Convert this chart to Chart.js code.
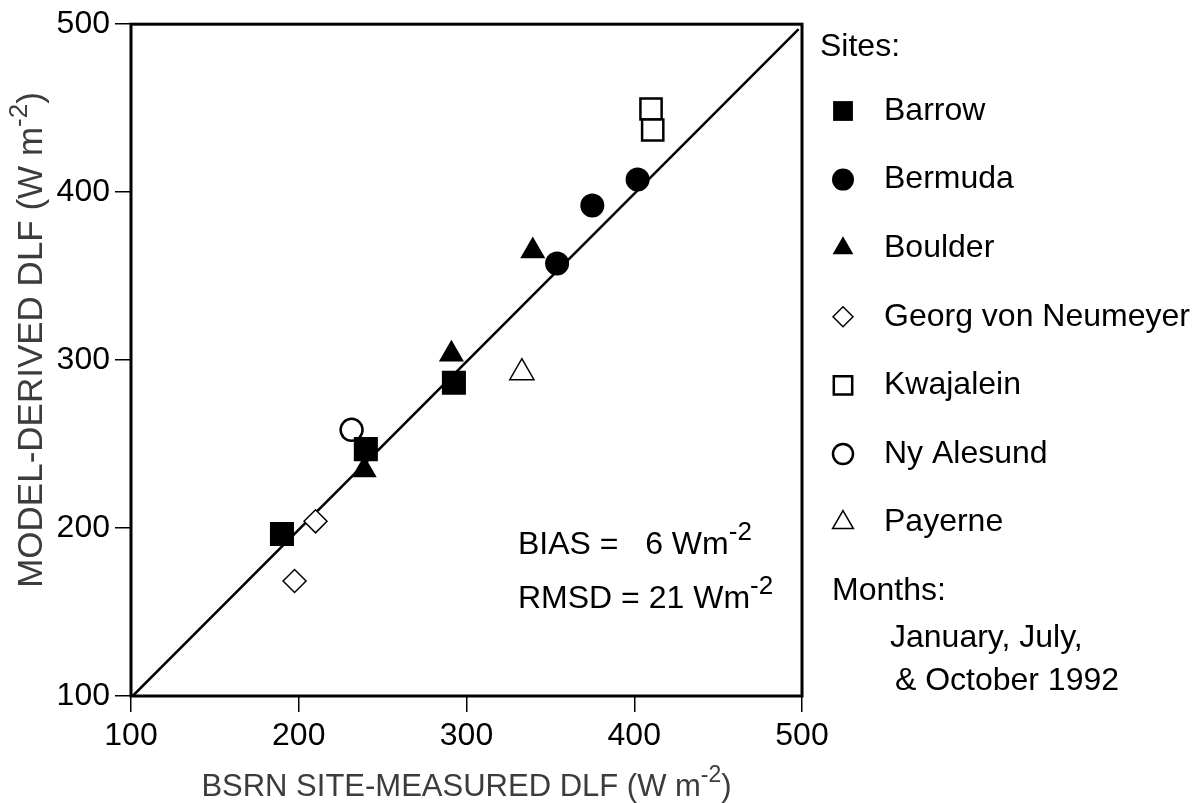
<!DOCTYPE html>
<html>
<head>
<meta charset="utf-8">
<title>Model-derived vs BSRN site-measured DLF</title>
<script src="https://cdn.jsdelivr.net/npm/chart.js@4"></script>
<style>
  html, body { margin: 0; padding: 0; background: #fff; }
  #wrap { width: 1196px; height: 803px; }
</style>
</head>
<body>
<div id="wrap"><canvas id="dlfChart" width="1196" height="803"></canvas></div>
<script>
// --- data (W m-2) ---
const siteNames = ['Barrow', 'Bermuda', 'Boulder', 'Georg von Neumeyer', 'Kwajalein', 'Ny Alesund', 'Payerne'];

const barrowX = [190, 240, 292.5];
const barrowY = [196.5, 247, 286.5];
const bermudaX = [354, 375, 402];
const bermudaY = [357.5, 392, 407.5];
const boulderX = [239, 291, 339.5];
const boulderY = [234.5, 303.5, 365];
const georgX = [197.5, 210];
const georgY = [168.5, 204];
const kwajaleinX = [410, 411];
const kwajaleinY = [449.5, 437];
const nyAlesundX = [231.5];
const nyAlesundY = [258.5];
const payerneX = [333];
const payerneY = [292.5];

// 1:1 line
const oneToOneX = [101, 498];
const oneToOneY = [100, 497];

const tickValues = [100, 200, 300, 400, 500];

const xTitle = [{ t: 'BSRN SITE-MEASURED DLF (W m' }, { t: '-2', sup: true }, { t: ')' }];
const yTitle = [{ t: 'MODEL-DERIVED DLF (W m' }, { t: '-2', sup: true }, { t: ')' }];
const biasLine = [{ t: 'BIAS =   6 Wm' }, { t: '-2', sup: true }];
const rmsdLine = [{ t: 'RMSD = 21 Wm' }, { t: '-2', sup: true }];
const monthLines = ['January, July,', ' & October 1992'];

const FONT = "'Liberation Sans', Arial, Helvetica, sans-serif";

function pts(xs, ys) {
  return xs.map((x, i) => ({ x: x, y: ys[i] }));
}

function site(label, xs, ys, style, radius, filled, bw) {
  return {
    label: label,
    data: pts(xs, ys),
    pointStyle: style,
    pointRadius: radius,
    pointHoverRadius: radius,
    pointBackgroundColor: filled ? '#000' : '#fff',
    pointBorderColor: '#000',
    pointBorderWidth: bw,
    showLine: false
  };
}

const datasets = [
  site(siteNames[0], barrowX, barrowY, 'rect', 17, true, 0),
  site(siteNames[1], bermudaX, bermudaY, 'circle', 12, true, 0),
  site(siteNames[2], boulderX, boulderY, 'triangle', 14.5, true, 0),
  site(siteNames[3], georgX, georgY, 'rectRot', 11.5, false, 1.5),
  site(siteNames[4], kwajaleinX, kwajaleinY, 'rect', 15, false, 2.5),
  site(siteNames[5], nyAlesundX, nyAlesundY, 'circle', 11, false, 2.5),
  site(siteNames[6], payerneX, payerneY, 'triangle', 14, false, 1.5),
  {
    type: 'line',
    label: '1:1',
    data: pts(oneToOneX, oneToOneY),
    borderColor: '#000',
    borderWidth: 2.5,
    pointRadius: 0,
    showLine: true,
    fill: false
  }
];

// legend marker sizes are a bit smaller than the plotted ones
const legendRadius = [14, 11, 12, 10, 13, 10, 12];

function drawRich(ctx, parts, x, y, align, size, color, supRatio) {
  const supSize = Math.round(size * (supRatio || 0.75));
  let total = 0;
  parts.forEach(p => {
    ctx.font = (p.sup ? supSize : size) + 'px ' + FONT;
    p.w = ctx.measureText(p.t).width;
    total += p.w;
  });
  let cx = align === 'center' ? x - total / 2 : x;
  ctx.fillStyle = color;
  ctx.textAlign = 'left';
  ctx.textBaseline = 'alphabetic';
  parts.forEach(p => {
    ctx.font = (p.sup ? supSize : size) + 'px ' + FONT;
    ctx.fillText(p.t, cx, p.sup ? y - size * 0.44 : y);
    cx += p.w;
  });
}

function marker(ctx, ds, r, x, y) {
  ctx.save();
  ctx.fillStyle = ds.pointBackgroundColor;
  ctx.strokeStyle = ds.pointBorderColor;
  ctx.lineWidth = ds.pointBorderWidth;
  Chart.helpers.drawPoint(ctx, {
    pointStyle: ds.pointStyle,
    rotation: 0,
    radius: r,
    borderWidth: ds.pointBorderWidth
  }, x, y);
  ctx.restore();
}

const framePlugin = {
  id: 'frame',
  afterDraw(chart) {
    const { ctx, chartArea: a } = chart;
    ctx.save();
    ctx.strokeStyle = '#000';
    ctx.lineWidth = 3;
    ctx.strokeRect(a.left, a.top, a.right - a.left, a.bottom - a.top);
    ctx.restore();
  }
};

const textPlugin = {
  id: 'texts',
  afterDraw(chart) {
    const ctx = chart.ctx;
    const a = chart.chartArea;
    ctx.save();

    // axis titles
    drawRich(ctx, xTitle, (a.left + a.right) / 2, 796, 'center', 31, '#3c3c3c');
    ctx.save();
    ctx.translate(30, 340);
    ctx.rotate(-Math.PI / 2);
    drawRich(ctx, yTitle, 0, 12, 'center', 35, '#3c3c3c');
    ctx.restore();

    // statistics
    drawRich(ctx, biasLine, 518, 554, 'left', 32, '#000', 0.8);
    drawRich(ctx, rmsdLine, 518, 608, 'left', 32, '#000', 0.8);

    // legend
    ctx.fillStyle = '#000';
    ctx.font = '32px ' + FONT;
    ctx.textAlign = 'left';
    ctx.textBaseline = 'middle';
    ctx.fillText('Sites:', 820, 47);
    siteNames.forEach((name, i) => {
      const y = 111 + i * 68.6;
      marker(ctx, chart.data.datasets[i], legendRadius[i], 843, y);
      ctx.fillStyle = '#000';
      ctx.font = '32px ' + FONT;
      ctx.textBaseline = 'middle';
      ctx.fillText(name, 884, y);
    });
    ctx.fillText('Months:', 832, 591);
    ctx.fillText(monthLines[0], 890, 638);
    ctx.fillText(monthLines[1], 886, 681);

    ctx.restore();
  }
};

function axis(pos, fit) {
  return {
    type: 'linear',
    position: pos,
    min: 100,
    max: 500,
    afterBuildTicks: s => { s.ticks = tickValues.map(v => ({ value: v })); },
    afterFit: fit,
    ticks: {
      autoSkip: false,
      maxRotation: 0,
      padding: 5,
      color: '#000',
      font: { family: FONT, size: 32 }
    },
    grid: {
      display: true,
      drawOnChartArea: false,
      drawTicks: true,
      tickLength: 16,
      color: '#000',
      lineWidth: 1.5
    },
    border: { display: false }
  };
}

new Chart(document.getElementById('dlfChart'), {
  type: 'scatter',
  data: { datasets: datasets },
  options: {
    responsive: false,
    animation: false,
    devicePixelRatio: 1,
    layout: { padding: { top: 24, right: 394, bottom: 0, left: 0 } },
    plugins: { legend: { display: false }, tooltip: { enabled: false } },
    scales: {
      x: axis('bottom', s => { s.height = 107; }),
      y: axis('left', s => { s.width = 131; })
    }
  },
  plugins: [framePlugin, textPlugin]
});
</script>
</body>
</html>
